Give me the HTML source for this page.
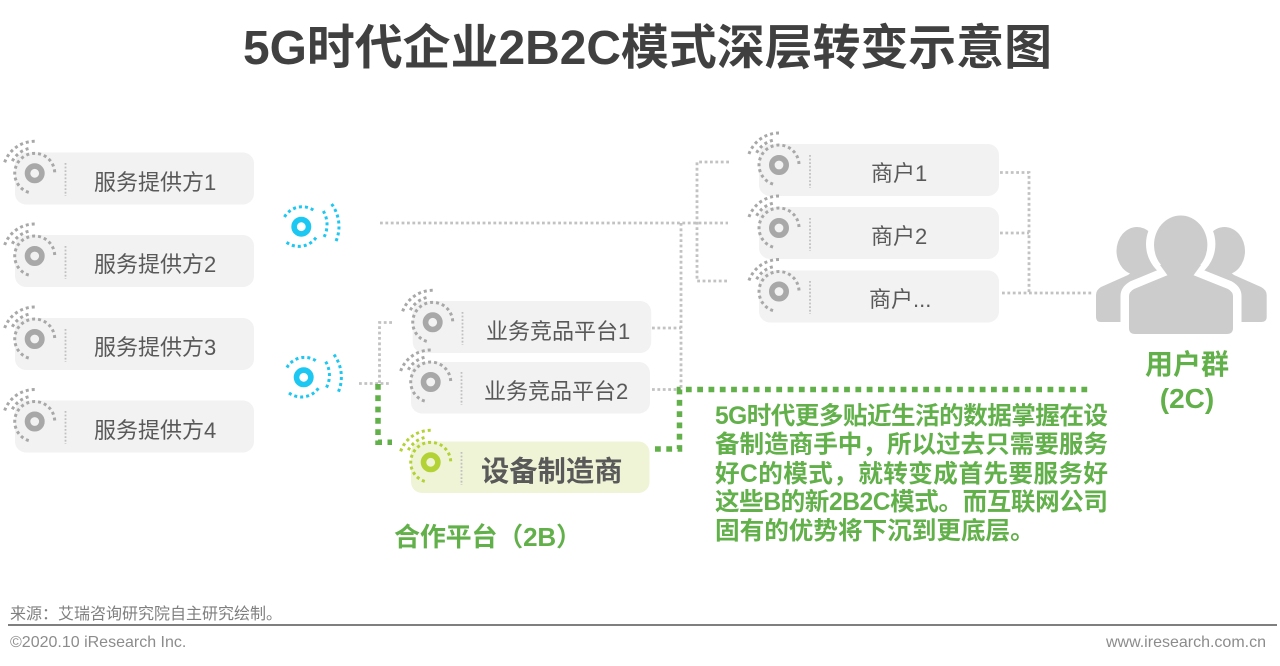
<!DOCTYPE html>
<html lang="zh"><head><meta charset="utf-8"><title>5G时代企业2B2C模式深层转变示意图</title>
<style>
html,body{margin:0;padding:0;background:#fff;width:1280px;height:666px;overflow:hidden}
svg{display:block}
text{font-family:"Liberation Sans","Noto Sans CJK SC",sans-serif;fill:#595959}
.l{font-size:22px}
.g{fill:#62b04a;font-weight:bold}
.p{font-size:24.600px}
.c{stroke:#c2c2c2;stroke-width:2.800;stroke-dasharray:2.800 2.600;fill:none}
.t{stroke:#62b04a;stroke-width:5.500;stroke-dasharray:5.800 5.500;fill:none}
.box{fill:#f2f2f2}
.sep{stroke:#c0c0c0;stroke-width:1.800;stroke-dasharray:1.800 1.800}
</style></head><body>
<svg width="1280" height="666" viewBox="0 0 1280 666" xmlns="http://www.w3.org/2000/svg">
<defs>
<g id="ic">
<circle r="7.200" fill="none" stroke="currentColor" stroke-width="5.600"/>
<g fill="none" stroke="currentColor" stroke-width="3" stroke-dasharray="3 3">
<path d="M20,-1 A20,20 0 1 0 -3.500,19.700"/>
<path d="M-6.200,-24.700 A25.500,25.500 0 0 0 -23.100,-10.800"/>
<path d="M0,-32 A32,32 0 0 0 -30.400,-10"/>
</g>
</g>
<g id="bl">
<circle r="7.200" fill="none" stroke="#1cc7f2" stroke-width="5.600"/>
<g fill="none" stroke="#1cc7f2" stroke-width="3" stroke-dasharray="3 3">
<path d="M12,-16.700 A20.500,20.500 0 0 0 -18,-7.300"/>
<path d="M-14.700,15.700 A21,21 0 0 0 15.300,10"/>
<path d="M22,-15.700 A27,27 0 0 1 22,11.700"/>
<path d="M30.300,-22.700 A38,38 0 0 1 33.700,16.700"/>
</g>
</g>
</defs>

<text x="243" y="64" font-size="48" font-weight="bold" style="fill:#404040" textLength="809" lengthAdjust="spacingAndGlyphs">5G时代企业2B2C模式深层转变示意图</text>

<!-- connectors -->
<path class="c" d="M380 223H728"/>
<path class="c" d="M729 162H697V281H729"/>
<path class="c" d="M681 223V390"/>
<path class="c" d="M652 328H681"/>
<path class="c" d="M652 389.500H681"/>
<path class="c" d="M359 383.500H390"/>
<path class="c" d="M392 322.500H379.500V383"/>
<path class="c" d="M1000 172.500H1029V293"/>
<path class="c" d="M1000 233H1029"/>
<path class="c" d="M1002 293H1092"/>
<path class="t" d="M378 384V442.300H392"/>
<path class="t" d="M655 449H679.500V389.500H1092"/>

<!-- left boxes -->
<rect class="box" x="15" y="152.500" width="239" height="52" rx="11"/>
<rect class="box" x="15" y="235" width="239" height="52" rx="11"/>
<rect class="box" x="15" y="318" width="239" height="52" rx="11"/>
<rect class="box" x="15" y="400.500" width="239" height="52" rx="11"/>
<g color="#a8a8a8">
<use href="#ic" x="34.700" y="173.300"/>
<use href="#ic" x="34.700" y="256"/>
<use href="#ic" x="34.700" y="339"/>
<use href="#ic" x="34.700" y="421.500"/>
</g>
<path class="sep" d="M65.500 163V196M65.500 246V279M65.500 329V362M65.500 411V444"/>
<text class="l" x="94" y="190">服务提供方1</text>
<text class="l" x="94" y="272">服务提供方2</text>
<text class="l" x="94" y="355">服务提供方3</text>
<text class="l" x="94" y="438">服务提供方4</text>

<use href="#bl" x="301.300" y="226.700"/>
<use href="#bl" x="303.700" y="377.300"/>

<!-- middle boxes -->
<rect class="box" x="412.700" y="301" width="238.500" height="52" rx="11"/>
<rect class="box" x="411" y="362" width="239" height="51.500" rx="11"/>
<rect x="411" y="441.500" width="238.500" height="51.500" rx="11" fill="#eff4d6"/>
<g color="#a8a8a8">
<use href="#ic" x="432.700" y="322.300"/>
<use href="#ic" x="430.700" y="382"/>
</g>
<use href="#ic" x="430.700" y="462.300" color="#b2d235"/>
<path class="sep" d="M462.500 312V345M461.500 372V405M461.500 452V485"/>
<text class="l" x="486" y="339">业务竞品平台1</text>
<text class="l" x="484" y="399">业务竞品平台2</text>
<text x="481" y="481" font-size="28.300" font-weight="bold">设备制造商</text>

<!-- merchant boxes -->
<rect class="box" x="759" y="144" width="240" height="52" rx="11"/>
<rect class="box" x="759" y="207" width="240" height="52" rx="11"/>
<rect class="box" x="759" y="270.500" width="240" height="52" rx="11"/>
<g color="#a8a8a8">
<use href="#ic" x="779" y="165"/>
<use href="#ic" x="779" y="228"/>
<use href="#ic" x="779" y="291.500"/>
</g>
<path class="sep" d="M810 155V188M810 218V251M810 281V314"/>
<text class="l" x="871" y="181">商户1</text>
<text class="l" x="871" y="244">商户2</text>
<text class="l" x="869" y="307">商户...</text>

<!-- users -->
<g fill="#cccccc">
<ellipse cx="1137" cy="251" rx="20.500" ry="24"/>
<ellipse cx="1224.500" cy="251" rx="20.500" ry="24"/>
<path d="M1096 295Q1096 290 1101 287L1128 275L1140 266H1222L1234 275L1261 287Q1266.700 290 1266.700 295V317Q1266.700 322 1261 322H1101Q1096 322 1096 317Z"/>
<path stroke="#fff" stroke-width="17" d="M1129 296Q1129 292 1134 289L1168 275H1193L1228 289Q1233 292 1233 296V328Q1233 334 1227 334H1135Q1129 334 1129 328Z"/>
<ellipse cx="1180.700" cy="244" rx="34.700" ry="36" fill="#fff"/>
<path d="M1129 296Q1129 292 1134 289L1168 275H1193L1228 289Q1233 292 1233 296V328Q1233 334 1227 334H1135Q1129 334 1129 328Z"/>
<ellipse cx="1180.700" cy="245" rx="26.700" ry="29.500"/>
<path d="M1160 265L1168 276H1193L1201 265Z"/>
</g>
<text class="g" x="1187" y="374" font-size="28" text-anchor="middle">用户群</text>
<text class="g" x="1187" y="408" font-size="28" text-anchor="middle">(2C)</text>

<text class="g" x="394" y="546" font-size="26" textLength="188">合作平台（2B）</text>

<text class="g p" x="715" y="424" textLength="393">5G时代更多贴近生活的数据掌握在设</text>
<text class="g p" x="715" y="452.500" textLength="393">备制造商手中，所以过去只需要服务</text>
<text class="g p" x="715" y="482" textLength="393">好C的模式，就转变成首先要服务好</text>
<text class="g p" x="715" y="510" textLength="393">这些B的新2B2C模式。而互联网公司</text>
<text class="g p" x="715" y="539">固有的优势将下沉到更底层。</text>

<!-- footer -->
<text x="10" y="619" font-size="16" style="fill:#7f7f7f">来源：艾瑞咨询研究院自主研究绘制。</text>
<rect x="8" y="624" width="1269" height="2" fill="#7f7f7f"/>
<text x="10" y="647" font-size="16" style="fill:#8c8c8c">©2020.10 iResearch Inc.</text>
<text x="1266" y="647" font-size="16" text-anchor="end" style="fill:#8c8c8c">www.iresearch.com.cn</text>
</svg>
</body></html>
